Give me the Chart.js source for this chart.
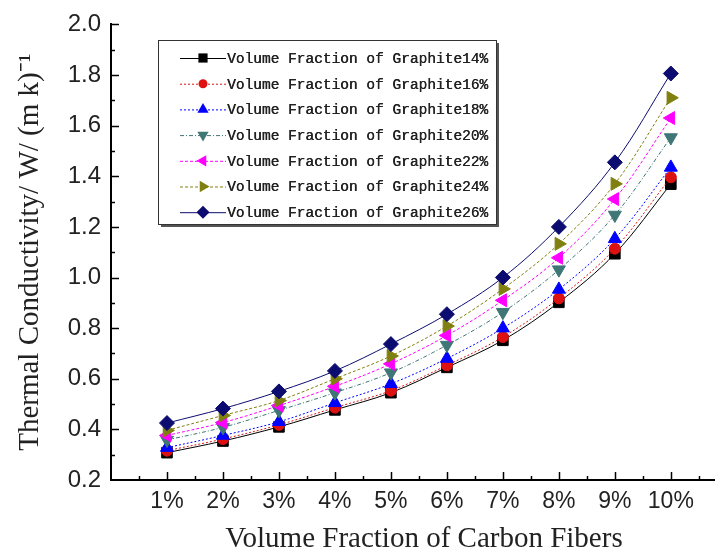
<!DOCTYPE html>
<html>
<head>
<meta charset="utf-8">
<script src="https://cdn.jsdelivr.net/npm/chart.js@4.4.1/dist/chart.umd.min.js"></script>
<style>
  body { margin: 0; background: #fff; }
</style>
</head>
<body>
<canvas id="tc-chart" width="723" height="557"></canvas>
<script>
// carbon fiber volume fraction (%)
const fiberFractions = [1, 2, 3, 4, 5, 6, 7, 8, 9, 10]
const yTickValues = [0.2, 0.4, 0.6, 0.8, 1.0, 1.2, 1.4, 1.6, 1.8, 2.0]

const seriesNames = [
  'Volume Fraction of Graphite14%',
  'Volume Fraction of Graphite16%',
  'Volume Fraction of Graphite18%',
  'Volume Fraction of Graphite20%',
  'Volume Fraction of Graphite22%',
  'Volume Fraction of Graphite24%',
  'Volume Fraction of Graphite26%',
]

const graphite14 = [0.308, 0.354, 0.410, 0.477, 0.545, 0.645, 0.752, 0.902, 1.094, 1.369]
const graphite16 = [0.316, 0.362, 0.418, 0.486, 0.553, 0.653, 0.765, 0.918, 1.114, 1.396]
const graphite18 = [0.328, 0.376, 0.430, 0.505, 0.580, 0.680, 0.800, 0.953, 1.153, 1.435]
const graphite20 = [0.358, 0.408, 0.475, 0.545, 0.624, 0.733, 0.863, 1.031, 1.247, 1.553]
const graphite22 = [0.376, 0.427, 0.494, 0.570, 0.659, 0.771, 0.910, 1.078, 1.310, 1.630]
const graphite24 = [0.396, 0.455, 0.514, 0.600, 0.690, 0.808, 0.955, 1.133, 1.370, 1.710]
const graphite26 = [0.425, 0.482, 0.550, 0.631, 0.737, 0.855, 1.000, 1.200, 1.455, 1.806]

const seriesValues = [graphite14, graphite16, graphite18, graphite20, graphite22, graphite24, graphite26]

const xTitle = 'Volume Fraction of Carbon Fibers'
const yTitle = 'Thermal Conductivity/ W/ (m k)⁻¹'

// style per series: colour, marker, rotation, radius, dash
const styles = [
  { color: '#000000', marker: 'rect', rot: 0, r: 7.5, dash: [] },
  { color: '#dd1111', marker: 'circle', rot: 0, r: 5.5, dash: [2, 2] },
  { color: '#0000ff', marker: 'triangle', rot: 0, r: 7.5, dash: [2, 2] },
  { color: '#3f7676', marker: 'triangle', rot: 180, r: 7.5, dash: [4, 2, 1, 2] },
  { color: '#ff00ff', marker: 'triangle', rot: 270, r: 7.5, dash: [3, 2] },
  { color: '#808010', marker: 'triangle', rot: 90, r: 7.5, dash: [3, 2] },
  { color: '#0c0c70', marker: 'rectRot', rot: 0, r: 7.5, dash: [] },
]

const datasets = seriesValues.map((vals, i) => ({
  label: seriesNames[i],
  data: vals.map((v, j) => ({ x: fiberFractions[j], y: v })),
  borderColor: styles[i].color,
  backgroundColor: styles[i].color,
  borderWidth: 1,
  borderDash: styles[i].dash,
  pointStyle: styles[i].marker,
  rotation: styles[i].rot,
  pointRadius: styles[i].r,
  pointBorderWidth: 1,
  tension: 0.35,
  order: 6 - i,
}))

function drawMarker(ctx, style, x, y) {
  ctx.save()
  ctx.translate(x, y)
  ctx.rotate((style.rot * Math.PI) / 180)
  ctx.fillStyle = style.color
  ctx.beginPath()
  const r = style.r
  if (style.marker === 'rect') {
    const s = r * Math.SQRT1_2
    ctx.rect(-s, -s, 2 * s, 2 * s)
  } else if (style.marker === 'circle') {
    ctx.arc(0, 0, r, 0, Math.PI * 2)
  } else if (style.marker === 'rectRot') {
    ctx.moveTo(0, -r)
    ctx.lineTo(r, 0)
    ctx.lineTo(0, r)
    ctx.lineTo(-r, 0)
    ctx.closePath()
  } else {
    const edge = (3 * r) / Math.sqrt(3)
    const h = (edge * Math.sqrt(3)) / 2
    ctx.moveTo(0, -(2 / 3) * h)
    ctx.lineTo(edge / 2, h / 3)
    ctx.lineTo(-edge / 2, h / 3)
    ctx.closePath()
  }
  ctx.fill()
  ctx.restore()
}

// inward tick marks, x title, boxed legend
const decorations = {
  id: 'decorations',
  afterDraw(chart) {
    const ctx = chart.ctx
    const xs = chart.scales.x
    const ys = chart.scales.y
    const area = chart.chartArea
    ctx.save()
    ctx.strokeStyle = '#000'
    ctx.lineWidth = 1.5
    for (let v = 0.5; v <= 10.5; v += 0.5) {
      const px = Math.round(xs.getPixelForValue(v)) + 0.5
      const len = Number.isInteger(v) ? 8 : 4
      ctx.beginPath()
      ctx.moveTo(px, area.bottom)
      ctx.lineTo(px, area.bottom - len)
      ctx.stroke()
    }
    for (let k = 3; k <= 20; k++) {
      const v = k / 10
      const py = Math.round(ys.getPixelForValue(v)) + 0.5
      const len = k % 2 === 0 ? 8 : 4
      ctx.beginPath()
      ctx.moveTo(area.left, py)
      ctx.lineTo(area.left + len, py)
      ctx.stroke()
    }

    ctx.fillStyle = '#222'
    ctx.font = '29px "Liberation Serif", "Times New Roman", serif'
    ctx.textAlign = 'center'
    ctx.textBaseline = 'middle'
    ctx.fillText(xTitle, 424, 539)
    ctx.textAlign = 'left'

    // legend box
    const bx = 158, by = 40, bw = 338, bh = 184
    ctx.fillStyle = '#fff'
    ctx.fillRect(bx, by, bw, bh)
    ctx.lineWidth = 1
    ctx.strokeStyle = '#333'
    ctx.strokeRect(bx + 0.5, by + 0.5, bw, bh)
    ctx.strokeStyle = '#555'
    ctx.lineWidth = 2
    ctx.beginPath()
    ctx.moveTo(bx + 3, by + bh + 2)
    ctx.lineTo(bx + bw + 2, by + bh + 2)
    ctx.lineTo(bx + bw + 2, by + 3)
    ctx.stroke()

    ctx.font = '14.5px "Liberation Mono", monospace'
    seriesNames.forEach((name, i) => {
      const y = 58 + i * 25.7
      const st = styles[i]
      ctx.strokeStyle = st.color
      ctx.lineWidth = 1
      ctx.setLineDash(st.dash)
      ctx.beginPath()
      ctx.moveTo(180, y + 0.5)
      ctx.lineTo(226, y + 0.5)
      ctx.stroke()
      ctx.setLineDash([])
      drawMarker(ctx, Object.assign({}, st, { r: st.r - 1 }), 203, y)
      ctx.fillStyle = '#222'
      ctx.fillText(name, 227, y + 1)
      ctx.fillText(name, 227.4, y + 1)
    })
    ctx.restore()
  },
}

const ctxTC = document.getElementById('tc-chart').getContext('2d')

const tcChart = new Chart(ctxTC, {
  type: 'line',
  data: { datasets: datasets },
  plugins: [decorations],
  options: {
    responsive: false,
    animation: false,
    layout: { padding: { left: 0, right: 0, top: 20, bottom: 0 } },
    plugins: {
      legend: { display: false },
      tooltip: { enabled: false },
    },
    scales: {
      x: {
        type: 'linear',
        min: 0,
        max: 10.78,
        afterFit: s => { s.height = 77 },
        afterBuildTicks: s => { s.ticks = fiberFractions.map(v => ({ value: v })) },
        grid: { display: false, drawTicks: false },
        border: { display: true, color: '#000', width: 2 },
        ticks: {
          autoSkip: false,
          padding: 8,
          color: '#222',
          font: { family: '"Liberation Sans", Arial', size: 23 },
          maxRotation: 0,
          callback: v => v + '%',
        },
      },
      y: {
        min: 0.2,
        max: 2.0,
        afterFit: s => { s.width = 111 },
        afterBuildTicks: s => { s.ticks = yTickValues.map(v => ({ value: v })) },
        grid: { display: false, drawTicks: false },
        border: { display: true, color: '#000', width: 2 },
        ticks: {
          padding: 10,
          color: '#222',
          font: { family: '"Liberation Sans", Arial', size: 24 },
          callback: v => v.toFixed(1),
        },
        title: {
          display: true,
          text: yTitle,
          color: '#222',
          font: { family: '"Liberation Serif", "Times New Roman", serif', size: 29 },
          padding: { top: 13, bottom: 0 },
        },
      },
    },
  },
})
</script>
</body>
</html>
